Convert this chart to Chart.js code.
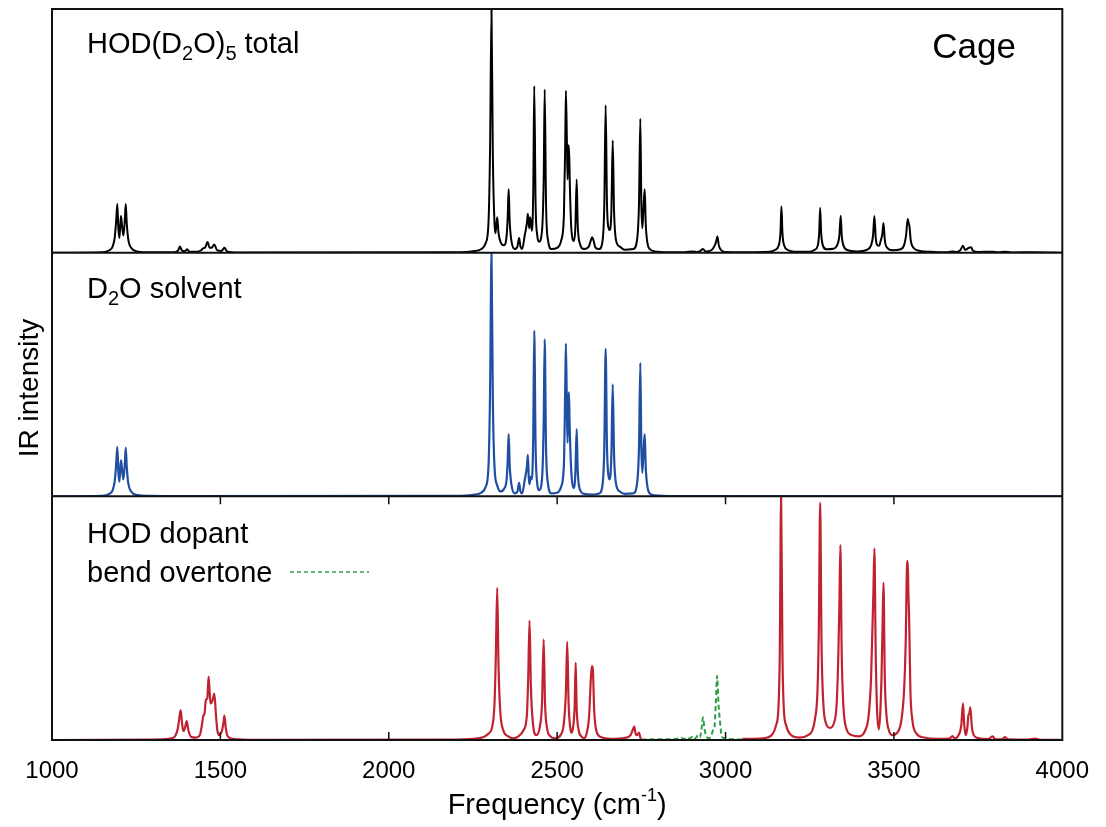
<!DOCTYPE html>
<html>
<head>
<meta charset="utf-8">
<script src="https://cdn.jsdelivr.net/npm/chart.js@4.4.1/dist/chart.umd.min.js"></script>
<style>
  html, body { margin: 0; padding: 0; background: #fff; }
  #wrap { width: 1106px; height: 827px; }
</style>
</head>
<body>
<div id="wrap"><canvas id="myChart" width="1106" height="827"></canvas></div>
<script>
// spectra: [frequency cm-1, intensity as fraction of panel height]
const totalSpectrum = [
  [1000, 0], [1150, 0.002], [1170, 0.01], [1180, 0.025], [1186, 0.06], [1190, 0.12], [1194, 0.2], [1197, 0.1],
  [1200, 0.06], [1203, 0.12], [1205, 0.15], [1208, 0.11], [1212, 0.07], [1216, 0.13], [1219, 0.2], [1222, 0.12],
  [1227, 0.05], [1235, 0.02], [1250, 0.006], [1280, 0.002],
  [1360, 0.002], [1374, 0.008], [1380, 0.025], [1386, 0.008], [1395, 0.006], [1401, 0.014], [1408, 0.004],
  [1430, 0.004], [1443, 0.01], [1449, 0.018], [1455, 0.022], [1462, 0.044], [1468, 0.02], [1474, 0.02],
  [1482, 0.034], [1490, 0.01], [1503, 0.007], [1512, 0.02], [1520, 0.005], [1550, 0.001],
  [2200, 0.002], [2250, 0.006], [2275, 0.015], [2288, 0.04], [2296, 0.12], [2301, 0.45], [2305, 1], [2309, 0.4],
  [2314, 0.12], [2317, 0.08], [2322, 0.145], [2326, 0.08], [2333, 0.04], [2342, 0.03], [2350, 0.07], [2353, 0.14],
  [2356, 0.26], [2359, 0.13], [2364, 0.05], [2374, 0.015], [2382, 0.025], [2387, 0.06], [2391, 0.025],
  [2396, 0.015], [2404, 0.073], [2410, 0.12], [2413, 0.16], [2417, 0.1], [2420, 0.145], [2425, 0.09],
  [2429, 0.25], [2432, 0.684], [2436, 0.2], [2441, 0.07], [2446, 0.045], [2455, 0.09], [2460, 0.3], [2463, 0.67],
  [2467, 0.2], [2473, 0.05], [2483, 0.015], [2500, 0.02], [2512, 0.05], [2520, 0.15], [2524, 0.45], [2526, 0.665],
  [2529, 0.45], [2531, 0.3], [2533, 0.44], [2535, 0.44], [2538, 0.26], [2542, 0.1], [2550, 0.048], [2554, 0.1],
  [2558, 0.3], [2561, 0.12], [2567, 0.04], [2580, 0.015], [2594, 0.025], [2601, 0.055], [2604, 0.063],
  [2608, 0.05], [2614, 0.02], [2625, 0.015], [2635, 0.05], [2640, 0.2], [2644, 0.605], [2648, 0.2], [2653, 0.1],
  [2656, 0.093], [2661, 0.17], [2665, 0.46], [2669, 0.17], [2675, 0.05], [2686, 0.025], [2700, 0.012],
  [2726, 0.015], [2737, 0.05], [2743, 0.2], [2747, 0.55], [2750, 0.2], [2753, 0.1], [2757, 0.2], [2760, 0.26],
  [2763, 0.12], [2768, 0.04], [2775, 0.015], [2790, 0.005], [2830, 0.002],
  [2880, 0.002], [2903, 0.005], [2915, 0.003], [2925, 0.007], [2933, 0.015], [2941, 0.005], [2958, 0.01],
  [2968, 0.03], [2972, 0.045], [2976, 0.066], [2980, 0.03], [2986, 0.012], [2998, 0.003], [3060, 0.002],
  [3130, 0.004], [3148, 0.012], [3158, 0.03], [3163, 0.08], [3166, 0.19], [3169, 0.08], [3174, 0.03],
  [3184, 0.012], [3210, 0.004], [3250, 0.004], [3265, 0.012], [3274, 0.03], [3278, 0.08], [3281, 0.184],
  [3284, 0.08], [3289, 0.03], [3299, 0.014], [3320, 0.016], [3334, 0.04], [3338, 0.07], [3342, 0.152],
  [3345, 0.07], [3350, 0.03], [3360, 0.012], [3390, 0.005], [3420, 0.012], [3432, 0.03], [3438, 0.07],
  [3442, 0.15], [3446, 0.06], [3451, 0.03], [3456, 0.028], [3461, 0.05], [3466, 0.08], [3469, 0.122],
  [3473, 0.05], [3480, 0.02], [3495, 0.01], [3520, 0.014], [3530, 0.03], [3536, 0.07], [3541, 0.138],
  [3544, 0.12], [3546, 0.11], [3550, 0.05], [3558, 0.02], [3575, 0.008], [3620, 0.003],
  [3660, 0.002], [3674, 0.005], [3685, 0.003], [3697, 0.01], [3705, 0.028], [3711, 0.012], [3716, 0.014],
  [3722, 0.02], [3729, 0.022], [3735, 0.008], [3750, 0.003], [3793, 0.004], [3810, 0.002], [3828, 0.004],
  [3850, 0.001], [3920, 0.002], [4000, 0]
];

const solventSpectrum = [
  [1000, 0], [1150, 0.002], [1170, 0.01], [1180, 0.025], [1186, 0.06], [1190, 0.12], [1194, 0.203], [1197, 0.1],
  [1200, 0.06], [1203, 0.12], [1205, 0.148], [1208, 0.11], [1212, 0.07], [1216, 0.13], [1219, 0.2], [1222, 0.12],
  [1227, 0.05], [1235, 0.02], [1250, 0.006], [1290, 0.002], [1400, 0.001],
  [2200, 0.002], [2250, 0.006], [2275, 0.015], [2288, 0.04], [2296, 0.12], [2301, 0.45], [2305, 1], [2309, 0.4],
  [2314, 0.12], [2322, 0.045], [2332, 0.02], [2342, 0.03], [2350, 0.07], [2353, 0.14], [2356, 0.255],
  [2359, 0.13], [2364, 0.05], [2374, 0.012], [2382, 0.02], [2387, 0.055], [2391, 0.02], [2396, 0.012],
  [2404, 0.069], [2410, 0.12], [2413, 0.17], [2416, 0.07], [2418, 0.05], [2421, 0.08], [2425, 0.07],
  [2429, 0.25], [2432, 0.68], [2436, 0.2], [2441, 0.05], [2446, 0.025], [2455, 0.07], [2460, 0.3], [2463, 0.645],
  [2467, 0.2], [2473, 0.05], [2483, 0.012], [2500, 0.015], [2512, 0.04], [2520, 0.13], [2524, 0.45],
  [2526, 0.627], [2529, 0.35], [2531, 0.22], [2533, 0.38], [2535, 0.427], [2537, 0.3], [2539, 0.2],
  [2543, 0.08], [2549, 0.034], [2554, 0.09], [2558, 0.276], [2561, 0.11], [2567, 0.03], [2580, 0.01],
  [2605, 0.007], [2625, 0.012], [2635, 0.05], [2640, 0.2], [2644, 0.605], [2648, 0.2], [2653, 0.08],
  [2656, 0.07], [2661, 0.17], [2665, 0.46], [2669, 0.17], [2675, 0.05], [2686, 0.02], [2700, 0.01],
  [2726, 0.012], [2737, 0.05], [2743, 0.2], [2747, 0.548], [2750, 0.2], [2753, 0.096], [2757, 0.2],
  [2760, 0.255], [2763, 0.12], [2768, 0.04], [2775, 0.012], [2790, 0.004], [2850, 0.001], [4000, 0]
];

const dopantSpectrum = [
  [1000, 0], [1300, 0.002], [1350, 0.006], [1365, 0.015], [1374, 0.05], [1378, 0.09], [1382, 0.123],
  [1386, 0.07], [1390, 0.037], [1395, 0.05], [1400, 0.078], [1405, 0.04], [1414, 0.012], [1428, 0.01],
  [1439, 0.02], [1445, 0.06], [1449, 0.097], [1453, 0.11], [1457, 0.165], [1461, 0.17], [1465, 0.26],
  [1468, 0.2], [1471, 0.15], [1476, 0.16], [1482, 0.19], [1487, 0.1], [1491, 0.04], [1496, 0.02], [1505, 0.04],
  [1509, 0.07], [1512, 0.1], [1516, 0.05], [1522, 0.015], [1540, 0.004], [1600, 0.001],
  [2200, 0.002], [2270, 0.008], [2295, 0.025], [2308, 0.06], [2314, 0.15], [2318, 0.35], [2322, 0.624],
  [2326, 0.3], [2331, 0.12], [2340, 0.04], [2355, 0.015], [2369, 0.007], [2385, 0.015], [2400, 0.04],
  [2410, 0.1], [2414, 0.25], [2418, 0.49], [2422, 0.22], [2428, 0.07], [2438, 0.02], [2448, 0.05],
  [2455, 0.15], [2460, 0.413], [2464, 0.15], [2470, 0.05], [2480, 0.015], [2494, 0.007], [2510, 0.02],
  [2520, 0.07], [2526, 0.2], [2530, 0.403], [2534, 0.15], [2539, 0.05], [2543, 0.03], [2548, 0.06],
  [2552, 0.14], [2555, 0.317], [2558, 0.13], [2564, 0.04], [2572, 0.015], [2579, 0.007], [2588, 0.03],
  [2595, 0.1], [2600, 0.25], [2603, 0.303], [2606, 0.29], [2610, 0.12], [2617, 0.035], [2630, 0.012],
  [2660, 0.005], [2700, 0.008], [2718, 0.02], [2724, 0.04], [2729, 0.055], [2733, 0.025], [2737, 0.02],
  [2743, 0.03], [2747, 0.01], [2750, 0.005],
  [2760, null],
  [3050, 0.005], [3100, 0.006], [3125, 0.01], [3140, 0.025], [3150, 0.06], [3157, 0.13], [3161, 0.35],
  [3165, 1], [3169, 0.35], [3173, 0.13], [3180, 0.06], [3195, 0.02], [3220, 0.01], [3245, 0.02], [3258, 0.04],
  [3266, 0.09], [3273, 0.2], [3277, 0.45], [3281, 0.974], [3285, 0.4], [3290, 0.16], [3298, 0.07],
  [3310, 0.05], [3322, 0.07], [3330, 0.15], [3335, 0.35], [3338, 0.55], [3341, 0.8], [3345, 0.35],
  [3350, 0.14], [3358, 0.05], [3375, 0.02], [3395, 0.015], [3415, 0.04], [3425, 0.1], [3432, 0.25],
  [3436, 0.45], [3439, 0.6], [3442, 0.786], [3446, 0.35], [3450, 0.12], [3455, 0.044], [3459, 0.1],
  [3463, 0.25], [3466, 0.45], [3469, 0.645], [3473, 0.25], [3478, 0.1], [3485, 0.04], [3495, 0.02],
  [3510, 0.03], [3522, 0.08], [3530, 0.2], [3535, 0.4], [3539, 0.72], [3541, 0.734], [3543, 0.6],
  [3545, 0.51], [3549, 0.2], [3555, 0.08], [3565, 0.03], [3590, 0.01], [3630, 0.005], [3665, 0.006],
  [3674, 0.016], [3680, 0.006], [3692, 0.02], [3700, 0.06], [3705, 0.15], [3709, 0.06], [3713, 0.02],
  [3718, 0.05], [3721, 0.1], [3724, 0.11], [3727, 0.134], [3731, 0.06], [3737, 0.02], [3750, 0.008],
  [3780, 0.004], [3793, 0.015], [3800, 0.004], [3820, 0.003], [3830, 0.012], [3838, 0.003], [3900, 0.002],
  [3919, 0.006], [3930, 0.002], [4000, 0]
];

const overtoneSpectrum = [
  [2750, 0.002], [2800, 0.003], [2850, 0.004], [2870, 0.008], [2878, 0.004], [2886, 0.012], [2892, 0.006],
  [2898, 0.01], [2903, 0.016], [2908, 0.006], [2914, 0.012], [2918, 0.02], [2924, 0.012], [2929, 0.05],
  [2933, 0.093], [2937, 0.05], [2943, 0.015], [2951, 0.007], [2958, 0.02], [2963, 0.04], [2967, 0.05],
  [2971, 0.15], [2975, 0.263], [2979, 0.15], [2984, 0.069], [2989, 0.014], [2995, 0.008], [3010, 0.004],
  [3050, 0.002]
];

const xTicks = [1000, 1500, 2000, 2500, 3000, 3500, 4000];

const toPoints = (arr) => arr.map(([x, y]) => ({ x: x, y: y }));

const txtFont = '"Liberation Sans", Arial, Helvetica, sans-serif';

function drawRich(ctx, x, y, parts) {
  for (const [txt, kind] of parts) {
    ctx.font = (kind === 'n' ? '29px ' : '20px ') + txtFont;
    let dy = 0;
    if (kind === 'sub') dy = 7;
    if (kind === 'sup') dy = -12;
    ctx.fillText(txt, x, y + dy);
    x += ctx.measureText(txt).width;
  }
  return x;
}

const framePlugin = {
  id: 'frame',
  afterDatasetsDraw(chart) {
    const ctx = chart.ctx;
    const a = chart.chartArea;
    const xs = chart.scales.x;
    const yb = chart.scales.yBot;
    ctx.save();
    ctx.strokeStyle = '#111';
    ctx.lineWidth = 2;
    ctx.strokeRect(a.left, a.top, a.right - a.left, a.bottom - a.top);
    ['yMid', 'yBot'].forEach(id => {
      const s = chart.scales[id];
      ctx.beginPath();
      ctx.moveTo(a.left, s.top);
      ctx.lineTo(a.right, s.top);
      ctx.stroke();
    });
    // inward ticks on the bottom panel only
    ctx.lineWidth = 1.5;
    xTicks.slice(1, -1).forEach(v => {
      const px = xs.getPixelForValue(v);
      ctx.beginPath();
      ctx.moveTo(px, yb.bottom);
      ctx.lineTo(px, yb.bottom - 8);
      ctx.moveTo(px, yb.top);
      ctx.lineTo(px, yb.top + 8);
      ctx.stroke();
    });
    ctx.restore();
  },
  afterDraw(chart) {
    const ctx = chart.ctx;
    const a = chart.chartArea;
    ctx.save();
    ctx.fillStyle = '#000';
    ctx.textBaseline = 'alphabetic';
    ctx.textAlign = 'left';
    drawRich(ctx, 87, 53, [['HOD(D', 'n'], ['2', 'sub'], ['O)', 'n'], ['5', 'sub'], [' total', 'n']]);
    drawRich(ctx, 87, 298, [['D', 'n'], ['2', 'sub'], ['O solvent', 'n']]);
    drawRich(ctx, 87, 543, [['HOD dopant', 'n']]);
    drawRich(ctx, 87, 582, [['bend overtone', 'n']]);

    ctx.font = '35px ' + txtFont;
    ctx.textAlign = 'right';
    ctx.fillText('Cage', 1016, 58);

    // legend sample for the dashed overtone line
    ctx.strokeStyle = '#2f9e4a';
    ctx.lineWidth = 1.6;
    ctx.setLineDash([4, 3]);
    ctx.beginPath();
    ctx.moveTo(290, 572);
    ctx.lineTo(369, 572);
    ctx.stroke();
    ctx.setLineDash([]);

    // x axis title with superscript
    ctx.textAlign = 'left';
    const p1 = 'Frequency (cm';
    ctx.font = '29px ' + txtFont;
    const w1 = ctx.measureText(p1).width;
    ctx.font = '18px ' + txtFont;
    const w2 = ctx.measureText('-1').width;
    ctx.font = '29px ' + txtFont;
    const w3 = ctx.measureText(')').width;
    const cx = (a.left + a.right) / 2;
    let x0 = cx - (w1 + w2 + w3) / 2;
    x0 = drawRich(ctx, x0, 814, [[p1, 'n']]);
    ctx.font = '18px ' + txtFont;
    ctx.fillText('-1', x0, 801);
    x0 += w2;
    ctx.font = '29px ' + txtFont;
    ctx.fillText(')', x0, 814);

    // y axis title
    ctx.translate(30, 388);
    ctx.rotate(-Math.PI / 2);
    ctx.textAlign = 'center';
    ctx.textBaseline = 'middle';
    ctx.font = '28px ' + txtFont;
    ctx.fillText('IR intensity', 0, 0);
    ctx.restore();
  }
};

const panelAxis = (extra) => Object.assign({
  type: 'linear',
  position: 'left',
  stack: 'panels',
  stackWeight: 1,
  min: 0,
  max: 1,
  ticks: { display: false },
  grid: { display: false, drawTicks: false },
  border: { display: false },
  afterFit: (s) => { s.width = 0; }
}, extra);

new Chart("myChart", {
  type: "line",
  data: {
    datasets: [
      { data: toPoints(totalSpectrum), yAxisID: 'yTop', borderColor: '#000000', borderWidth: 2 },
      { data: toPoints(solventSpectrum), yAxisID: 'yMid', borderColor: '#1f4ea3', borderWidth: 2.2 },
      { data: toPoints(dopantSpectrum), yAxisID: 'yBot', borderColor: '#c1222f', borderWidth: 2.2 },
      { data: toPoints(overtoneSpectrum), yAxisID: 'yBot', borderColor: '#2f9e4a', borderWidth: 2, borderDash: [5, 3] }
    ]
  },
  options: {
    responsive: false,
    devicePixelRatio: 1,
    animation: false,
    layout: { padding: { left: 52, right: 43, top: 9, bottom: 0 } },
    elements: {
      point: { radius: 0 },
      line: { cubicInterpolationMode: 'monotone', borderJoinStyle: 'round' }
    },
    plugins: {
      legend: { display: false },
      title: { display: false },
      tooltip: { enabled: false }
    },
    scales: {
      x: {
        type: 'linear',
        min: 1000,
        max: 4000,
        afterBuildTicks: (s) => { s.ticks = xTicks.map(v => ({ value: v })); },
        ticks: {
          color: '#000',
          padding: 17,
          maxRotation: 0,
          autoSkip: false,
          callback: (v) => String(v),
          font: { family: txtFont, size: 24 }
        },
        grid: { display: false, drawTicks: false },
        border: { display: false },
        afterFit: (s) => { s.height = 87; }
      },
      yBot: panelAxis({}),
      yMid: panelAxis({}),
      yTop: panelAxis({})
    }
  },
  plugins: [framePlugin]
});
</script>
</body>
</html>
